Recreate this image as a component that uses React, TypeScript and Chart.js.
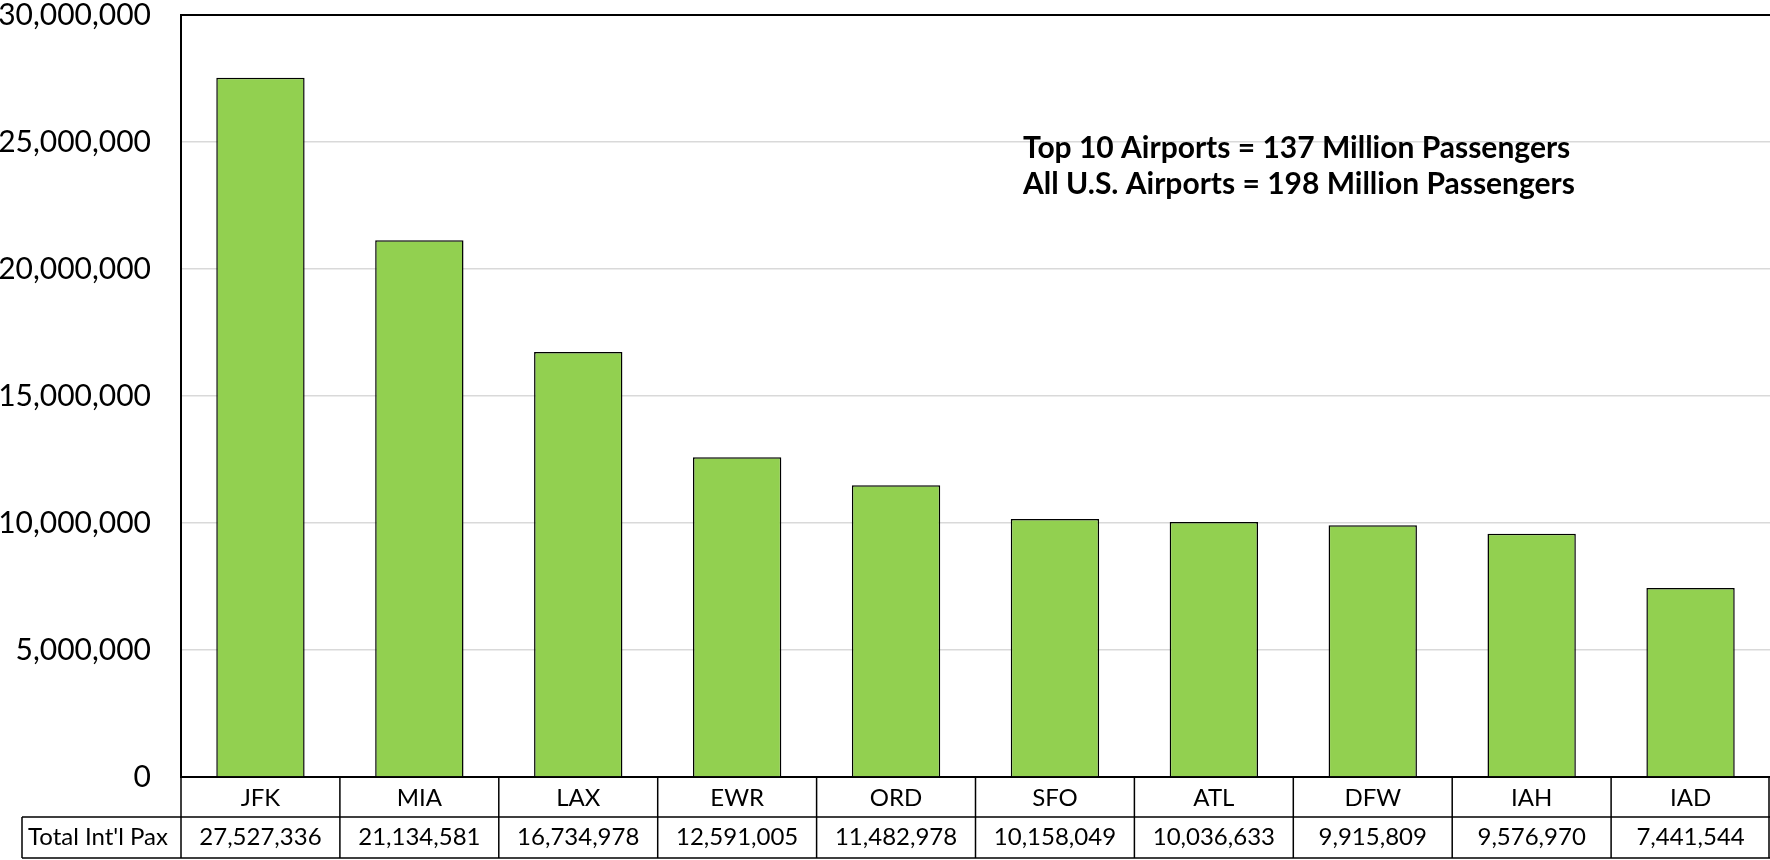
import React, { useEffect, useRef } from "react";
import { Chart, registerables } from "chart.js";

Chart.register(...registerables);

const airports = ["JFK", "MIA", "LAX", "EWR", "ORD", "SFO", "ATL", "DFW", "IAH", "IAD"];
const passengers = [27527336, 21134581, 16734978, 12591005, 11482978, 10158049, 10036633, 9915809, 9576970, 7441544];
const tableRowLabel = "Total Int'l Pax";
const annotationLines = [
  "Top 10 Airports = 137 Million Passengers",
  "All U.S. Airports = 198 Million Passengers",
];
const yMax = 30000000;
const yStep = 5000000;

const FONT = "Lato, 'Noto Sans', sans-serif";
const fmt = (v: number) => Math.round(v).toLocaleString("en-US");

const tablePlugin = {
  id: "dataTable",
  afterDraw(chart: any) {
    const { ctx, chartArea, scales } = chart;
    const x = scales.x;
    const n = airports.length;
    const colW = (chartArea.right - chartArea.left) / n;
    const row1Top = chartArea.bottom;
    const row2Top = row1Top + 40;
    const row2Bottom = row2Top + 41;
    const tableLeft = 22;
    ctx.save();
    // top border of plot
    ctx.strokeStyle = "#000";
    ctx.lineWidth = 2;
    ctx.beginPath();
    ctx.moveTo(chartArea.left, chartArea.top);
    ctx.lineTo(chartArea.right, chartArea.top);
    ctx.stroke();
    // table lines
    ctx.lineWidth = 1.5;
    ctx.beginPath();
    ctx.moveTo(tableLeft, row2Top);
    ctx.lineTo(chartArea.right, row2Top);
    ctx.moveTo(tableLeft, row2Bottom);
    ctx.lineTo(chartArea.right, row2Bottom);
    ctx.moveTo(tableLeft, row2Top);
    ctx.lineTo(tableLeft, row2Bottom);
    for (let i = 0; i <= n; i++) {
      const px = Math.min(chartArea.left + i * colW, chartArea.right - 1);
      ctx.moveTo(px, row1Top);
      ctx.lineTo(px, row2Bottom);
    }
    ctx.stroke();
    // row 2 text
    ctx.fillStyle = "#000";
    ctx.font = `24px ${FONT}`;
    ctx.textBaseline = "middle";
    const cy = (row2Top + row2Bottom) / 2;
    ctx.textAlign = "left";
    ctx.fillText(tableRowLabel, tableLeft + 6, cy);
    ctx.textAlign = "center";
    passengers.forEach((v, i) => {
      ctx.fillText(fmt(v), x.getPixelForValue(i), cy);
    });
    // annotation
    ctx.font = `bold 30px ${FONT}`;
    ctx.textAlign = "left";
    annotationLines.forEach((line, i) => {
      ctx.fillText(line, 1023, 148 + i * 36);
    });
    ctx.restore();
  },
};

export default function App() {
  const ref = useRef<HTMLCanvasElement | null>(null);
  useEffect(() => {
    if (!ref.current) return;
    const chart = new Chart(ref.current, {
      type: "bar",
      data: {
        labels: airports,
        datasets: [
          {
            data: passengers,
            backgroundColor: "#92D050",
            borderColor: "#000",
            borderWidth: 1.5,
            barPercentage: 0.556,
            categoryPercentage: 1,
          },
        ],
      },
      options: {
        responsive: false,
        animation: false,
        layout: { padding: { top: 15, left: 0, right: 0, bottom: 0 } },
        plugins: { legend: { display: false }, tooltip: { enabled: false } },
        scales: {
          x: {
            grid: { display: false, drawTicks: false },
            border: { display: true, color: "#000", width: 2 },
            ticks: { color: "#000", font: { family: FONT, size: 24 }, padding: 7, maxRotation: 0 },
            afterFit: (s: any) => {
              s.height = 83;
              s.paddingLeft = 0;
              s.paddingRight = 0;
            },
          },
          y: {
            min: 0,
            max: yMax,
            grid: { color: "#d9d9d9", lineWidth: 1.5, drawTicks: false },
            border: { display: true, color: "#000", width: 2 },
            ticks: {
              stepSize: yStep,
              color: "#000",
              font: { family: FONT, size: 30 },
              padding: 30,
              callback: (v: any) => fmt(Number(v)),
            },
            afterFit: (s: any) => {
              s.width = 181;
              s.paddingTop = 0;
              s.paddingBottom = 0;
            },
          },
        },
      },
      plugins: [tablePlugin],
    });
    return () => chart.destroy();
  }, []);
  return (
    <div style={{ position: "absolute", left: 0, top: 0, width: 1770, height: 860, background: "#fff" }}>
      <canvas ref={ref} width={1770} height={860} style={{ display: "block" }} />
    </div>
  );
}
